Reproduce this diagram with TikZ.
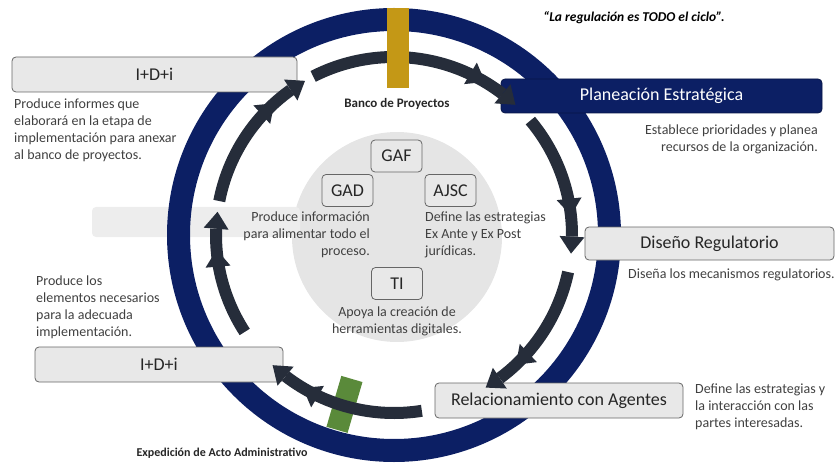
\documentclass[tikz,border=0pt]{standalone}
\usepackage{fontspec}
\setmainfont{Carlito}
\usetikzlibrary{arrows.meta, bending, decorations.markings, positioning}

\definecolor{navy}{RGB}{12,31,100}
\definecolor{ink}{RGB}{38,45,58}
\definecolor{gold}{RGB}{196,152,22}
\definecolor{leaf}{RGB}{90,138,58}
\definecolor{paper}{RGB}{232,232,232}
\definecolor{mist}{RGB}{229,229,229}
\definecolor{txt}{RGB}{64,64,64}

\begin{document}
\begin{tikzpicture}[x=1pt, y=1pt,
    stage/.style={draw=black!60, fill=paper, rounded corners=4pt, line width=0.8pt, font=\fontsize{18}{21}\selectfont, text=black!85, inner sep=0pt},
    unit/.style={stage, minimum width=51pt, minimum height=32pt},
    note/.style={font=\fontsize{14}{17}\selectfont, text=txt, inner sep=0pt},
    tag/.style={font=\fontsize{13}{15}\selectfont\bfseries, text=black!85},
    cyc/.style={draw=ink, line width=12pt, -{Triangle[length=17pt, width=25pt, line width=0pt]},
      decoration={markings, mark=at position -38pt with {\arrow{Triangle[length=17pt, width=25pt, line width=0pt]}}},
      postaction=decorate}
  ]
  \useasboundingbox (0,0) rectangle (837,464);
  \coordinate (hub) at (394,229);

  % Support area
  \fill[mist] (397,227) circle[radius=105];
  \fill[black!7, rounded corners=4pt] (92,227) rectangle (300,257);

  % Cycle ring and milestones
  \draw[navy, line width=23pt] (hub) circle[radius=215.5];
  \fill[leaf, shift={(hub)}, rotate=253.7] (150,-11) rectangle (203,11);

  % Stages
  \node[stage, minimum width=285pt, minimum height=35pt] (rdi1) at (154.5,389.5) {I+D+i};
  \node[stage, fill=navy, draw=navy!70!black, text=white, minimum width=321pt, minimum height=34pt] (plan) at (661.5,368) {Planeación Estratégica};
  \node[stage, minimum width=249pt, minimum height=33pt] (design) at (709.5,220.5) {Diseño Regulatorio};
  \node[stage, minimum width=248pt, minimum height=35pt] (agents) at (559,63.5) {Relacionamiento con Agentes};
  \node[stage, minimum width=248pt, minimum height=35pt] (rdi2) at (159,99.5) {I+D+i};

  % Support units
  \foreach \n/\t/\x/\y in {gaf/GAF/396.5/308, gad/GAD/347.5/273.5, ajsc/AJSC/450.5/273.5, ti/TI/397/180.5}
    \node[unit] (\n) at (\x,\y) {\t};

  % Flow arrows
  \foreach \a/\b in {117/47, 40/-6, -12/-59, -81/-133, 213/172.5, 169/120}
    \draw[cyc] ([shift={(\a:178)}]hub) arc[start angle=\a, end angle=\b, radius=178];
  \fill[gold] (387,376) rectangle (409,456);

  % Labels
  \node[font=\fontsize{13.5}{16}\selectfont\bfseries\itshape] (motto) at (634,446) {“La regulación es TODO el ciclo”.};
  \node[tag] (bank) at (397,360) {Banco de Proyectos};
  \node[tag, font=\fontsize{12}{14}\selectfont\bfseries] (act) at (222,11) {Expedición de Acto Administrativo};

  % Descriptions
  \node[note, anchor=north west, align=left] (d1) at (14,365) {Produce informes que\\elaborará en la etapa de\\implementación para anexar\\al banco de proyectos.};
  \node[note, anchor=north east, align=right] (d2) at (818,339) {Establece prioridades y planea\\recursos de la organización.};
  \node[note, anchor=north west] (d3) at (628,195) {Diseña los mecanismos regulatorios.};
  \node[note, anchor=north west, align=left] (d4) at (695,80) {Define las estrategias y\\la interacción con las\\partes interesadas.};
  \node[note, anchor=north west, align=left] (d5) at (36,188) {Produce los\\elementos necesarios\\para la adecuada\\implementación.};
  \node[note, anchor=north east, align=right] (d6) at (370,252) {Produce información\\para alimentar todo el\\proceso.};
  \node[note, anchor=north west, align=left] (d7) at (425,252) {Define las estrategias\\Ex Ante y Ex Post\\jurídicas.};
  \node[note, anchor=north, align=center] (d8) at (397,157) {Apoya la creación de\\herramientas digitales.};

\end{tikzpicture}
\end{document}
